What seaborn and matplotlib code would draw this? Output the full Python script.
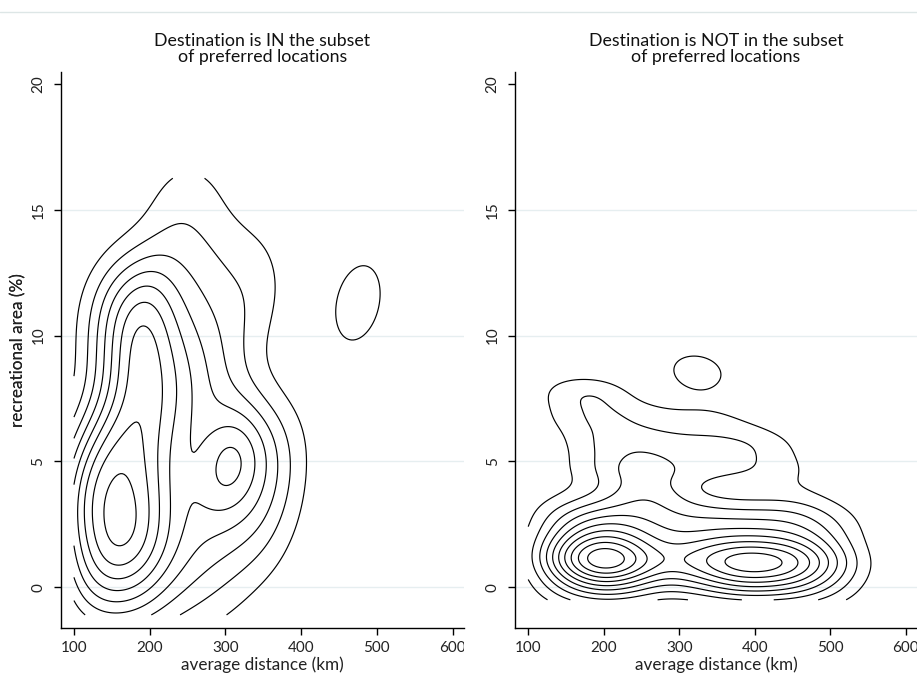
import numpy as np
import pandas as pd
import matplotlib
matplotlib.use("Agg")
import matplotlib.pyplot as plt
from matplotlib.transforms import Bbox, TransformedBbox
from matplotlib.lines import Line2D
import seaborn as sns
from seaborn._statistics import KDE

# Left panel: destination IN the subset of preferred locations
LEFT_DIST = [110, 150, 190, 230, 270, 310, 350, 390]
LEFT_AREA = [-0.5, 1.5, 3.5, 5.5, 7.5, 9.5, 11.5, 13.5, 15.5]
LEFT_COUNTS = [
    [0.72, 1.02, 0.94, 0.53, 0.40, 0.20, 0.02, 0.00],
    [1.25, 2.15, 1.80, 1.02, 0.69, 0.54, 0.39, 0.10],
    [1.70, 1.80, 1.75, 0.85, 0.70, 0.85, 0.85, 0.23],
    [0.99, 1.80, 1.45, 0.90, 0.55, 1.00, 0.95, 0.30],
    [0.00, 0.75, 1.70, 1.22, 0.85, 0.49, 0.15, 0.00],
    [0.05, 0.95, 1.90, 0.96, 0.74, 0.40, 0.05, 0.00],
    [0.09, 1.00, 1.60, 0.70, 0.50, 0.40, 0.45, 0.00],
    [0.00, 0.00, 0.10, 0.35, 0.40, 0.30, 0.20, 0.00],
    [0.00, 0.00, 0.05, 0.45, 0.35, 0.04, 0.00, 0.00],
]
LEFT_EXTRA_DIST = [303, 475]
LEFT_EXTRA_AREA = [5.0, 11.3]
LEFT_EXTRA_COUNT = [1.25, 1.0]

# Right panel: destination NOT in the subset
RIGHT_DIST = [130, 165, 200, 235, 270, 305, 340, 375, 410, 445, 480, 515, 550]
RIGHT_AREA = [-0.35, 0.3, 1.0, 1.65, 2.3, 2.95, 3.7, 4.7, 5.7, 6.7, 7.7]
RIGHT_COUNTS = [
    [0.19, 0.41, 0.51, 0.42, 0.26, 0.28, 0.38, 0.49, 0.49, 0.45, 0.33, 0.15, 0.02],
    [0.41, 0.91, 1.14, 0.92, 0.58, 0.65, 0.88, 1.14, 1.14, 1.04, 0.75, 0.35, 0.05],
    [0.79, 1.72, 2.17, 1.76, 1.11, 1.15, 1.46, 1.81, 1.81, 1.65, 1.24, 0.62, 0.10],
    [0.53, 1.16, 1.45, 1.18, 0.74, 0.72, 0.85, 0.99, 0.99, 0.90, 0.68, 0.33, 0.05],
    [0.35, 0.75, 0.95, 0.85, 0.70, 0.60, 0.60, 0.60, 0.60, 0.60, 0.50, 0.30, 0.05],
    [0.30, 0.55, 0.70, 0.70, 0.60, 0.55, 0.60, 0.55, 0.55, 0.55, 0.40, 0.20, 0.05],
    [0.05, 0.15, 0.30, 0.70, 0.75, 0.40, 0.15, 0.12, 0.12, 0.18, 0.12, 0.03, 0.00],
    [0.03, 0.28, 0.48, 0.85, 0.80, 0.60, 0.55, 0.50, 0.45, 0.25, 0.15, 0.04, 0.00],
    [0.03, 0.28, 0.50, 0.60, 0.55, 0.50, 0.50, 0.50, 0.45, 0.20, 0.06, 0.00, 0.00],
    [0.20, 0.38, 0.55, 0.39, 0.30, 0.25, 0.30, 0.20, 0.08, 0.03, 0.00, 0.00, 0.00],
    [0.25, 0.55, 0.50, 0.12, 0.08, 0.06, 0.08, 0.03, 0.00, 0.00, 0.00, 0.00, 0.00],
]
RIGHT_EXTRA_DIST = [324]
RIGHT_EXTRA_AREA = [8.6]
RIGHT_EXTRA_COUNT = [1.0]

TITLES = ["Destination is IN the subset\nof preferred locations",
          "Destination is NOT in the subset\nof preferred locations"]
X_TICKS = [100, 200, 300, 400, 500, 600]
Y_TICKS = [0, 5, 10, 15, 20]
X_LABEL = "average distance (km)"
Y_LABEL = "recreational area (%)"

# contour settings
LEFT_SX, RIGHT_SX = 30.0, 28.0
LEFT_LEVELS, LEFT_TOP = 9, 9.5
RIGHT_LEVELS, RIGHT_TOP = 10, 10.8
LEFT_CLIP = ((100, 620), (-1.1, 16.25))
RIGHT_CLIP = ((100, 620), (-0.5, 20))


def build_frame(dist, area, counts, sd, sa, sc):
    rows = []
    for a, row in zip(area, counts):
        for d, c in zip(dist, row):
            if c > 0:
                rows.append((d, a, c))
    for d, a, c in zip(sd, sa, sc):
        rows.append((d, a, c))
    return pd.DataFrame(rows, columns=["dist", "area", "count"])


def kernel_factor(df, sx):
    cov = np.cov(np.vstack([df["dist"], df["area"]]), aweights=df["count"])
    return sx / np.sqrt(cov[0, 0])


def iso_props(df, bw, clip, n_levels, top):
    kde = KDE(bw_method=bw, gridsize=200, cut=3, clip=clip)
    dens, _ = kde(df["dist"].to_numpy(float), df["area"].to_numpy(float),
                  weights=df["count"].to_numpy(float))
    vals = np.sort(dens.ravel())[::-1]
    total = vals.sum()
    targets = dens.max() * np.arange(1, n_levels + 1) / top
    return [float(1 - vals[vals >= t].sum() / total) for t in targets]


sns.set_theme(style="white")
plt.rcParams["font.family"] = ["Lato", "DejaVu Sans"]

W, H = 917, 684
fig = plt.figure(figsize=(W / 100, H / 100), dpi=100)
fig.patch.set_facecolor("white")

ax_bottom, ax_top = 628.0, 72.3
panels = [
    (60.7, 464.0, build_frame(LEFT_DIST, LEFT_AREA, LEFT_COUNTS, LEFT_EXTRA_DIST,
                              LEFT_EXTRA_AREA, LEFT_EXTRA_COUNT),
     LEFT_SX, LEFT_CLIP, LEFT_LEVELS, LEFT_TOP),
    (515.0, 917.0, build_frame(RIGHT_DIST, RIGHT_AREA, RIGHT_COUNTS, RIGHT_EXTRA_DIST,
                               RIGHT_EXTRA_AREA, RIGHT_EXTRA_COUNT),
     RIGHT_SX, RIGHT_CLIP, RIGHT_LEVELS, RIGHT_TOP),
]

axes = []
for i, (x0, x1, df, sx, clip, nlev, top) in enumerate(panels):
    ax = fig.add_axes([x0 / W, 1 - ax_bottom / H, (x1 - x0) / W, (ax_bottom - ax_top) / H])
    axes.append(ax)
    ax.set_facecolor("white")
    bw = kernel_factor(df, sx)
    props = iso_props(df, bw, clip, nlev, top)
    sns.kdeplot(data=df, x="dist", y="area", weights="count", bw_method=bw,
                levels=props, clip=clip, color="black", linewidths=0.85, ax=ax)

    ax.set_xlim(82.5, 615)
    ax.set_ylim(-1.62, 20.46)
    for s in ("top", "right"):
        ax.spines[s].set_visible(False)
    for s in ("left", "bottom"):
        ax.spines[s].set_color("black")
        ax.spines[s].set_linewidth(1.0)
    ax.set_xticks(X_TICKS)
    ax.set_xticklabels([str(t) for t in X_TICKS])
    ax.set_yticks(Y_TICKS)
    ax.set_yticklabels([str(t) for t in Y_TICKS], rotation=90, va="center")
    ax.tick_params(axis="both", which="major", length=5, width=1.0, color="black",
                   labelsize=11, labelcolor="#222222", direction="out",
                   bottom=True, left=True)
    ax.tick_params(axis="x", pad=4)
    ax.tick_params(axis="y", pad=6)
    for g in Y_TICKS[:-1]:
        ax.axhline(g, color="#e6eef0", lw=1.0, zorder=0)

    ax.set_xlabel(X_LABEL, fontsize=12.3, color="#222222")
    ax.xaxis.label.set_va("center")
    ax.xaxis.set_label_coords(0.5, -(665 - ax_bottom) / (ax_bottom - ax_top))
    ax.set_ylabel(Y_LABEL, fontsize=12.3, color="#222222")
    ax.yaxis.label.set_rotation_mode("default")
    ax.yaxis.label.set_va("center")
    ax.yaxis.label.set_ha("center")
    ax.yaxis.set_label_coords(-(x0 - 18) / (x1 - x0), 0.5)

    ax.text(0.5, 1 + (ax_top - 49) / (ax_bottom - ax_top), TITLES[i], transform=ax.transAxes,
            ha="center", va="center", fontsize=12.8, color="#111111", linespacing=1.05)

# the cropped "600" under the left panel
lab = axes[0].get_xticklabels()[-1]
lab.set_clip_on(True)
lab.set_clip_box(TransformedBbox(Bbox([[0, 0], [464 / W, 1]]), fig.transFigure))

# thin header rule of the cropped page
fig.add_artist(Line2D([0, 1], [1 - 12 / H, 1 - 12 / H], transform=fig.transFigure,
                      color="#dde6e6", lw=1.0))

fig.savefig("out.png", dpi=100, facecolor="white")
